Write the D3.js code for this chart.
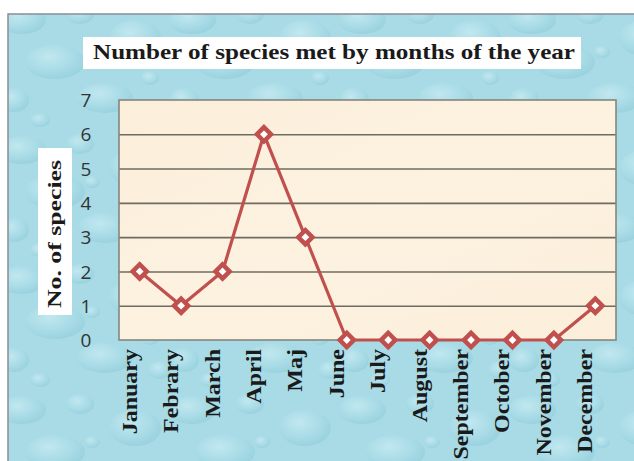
<!DOCTYPE html>
<html>
<head>
<meta charset="utf-8">
<script src="https://cdn.jsdelivr.net/npm/d3@7"></script>
<style>
  body { margin: 0; background: #fff; }
  svg { display: block; }
</style>
</head>
<body>
<div id="chart"></div>
<script>
// Datos del grafico
const meses = ["January", "Febrary", "March", "April", "Maj", "June", "July",
  "August", "September", "October", "November", "December"];
const especies = [2, 1, 2, 6, 3, 0, 0, 0, 0, 0, 0, 1];
const ticksY = [0, 1, 2, 3, 4, 5, 6, 7];

const TITULO = "Number of species met by months of the year";
const TITULO_Y = "No. of species";

const WIDTH = 634;
const HEIGHT = 461;

const PLOT = { left: 119, right: 616, top: 100, bottom: 340 };

const svg = d3.select("#chart")
  .append("svg")
  .attr("width", WIDTH)
  .attr("height", HEIGHT);

// fondo tipo gotas de agua
const defs = svg.append("defs");

const gota = defs.append("radialGradient")
  .attr("id", "gota")
  .attr("cx", "40%").attr("cy", "35%").attr("r", "65%");
gota.append("stop").attr("offset", "0%").attr("stop-color", "#d6f1f6");
gota.append("stop").attr("offset", "60%").attr("stop-color", "#aadde8");
gota.append("stop").attr("offset", "100%").attr("stop-color", "#8fcbd9");

const patron = defs.append("pattern")
  .attr("id", "agua")
  .attr("patternUnits", "userSpaceOnUse")
  .attr("width", 170).attr("height", 130);

patron.append("rect")
  .attr("width", 170).attr("height", 130)
  .attr("fill", "#a8dbe6");

const gotas = [
  [22, 20, 24, 14], [80, 14, 14, 10], [135, 38, 26, 18], [55, 62, 30, 17],
  [14, 100, 15, 12], [105, 98, 28, 15], [160, 110, 12, 9], [92, 52, 8, 6],
  [40, 120, 10, 7], [150, 78, 9, 7]
];
patron.selectAll("ellipse")
  .data(gotas)
  .join("ellipse")
  .attr("cx", d => d[0]).attr("cy", d => d[1])
  .attr("rx", d => d[2]).attr("ry", d => d[3])
  .attr("fill", "url(#gota)")
  .attr("opacity", 0.55);

const papel = defs.append("linearGradient")
  .attr("id", "papel")
  .attr("x1", "0%").attr("y1", "0%").attr("x2", "100%").attr("y2", "100%");
papel.append("stop").attr("offset", "0%").attr("stop-color", "#fbeedb");
papel.append("stop").attr("offset", "50%").attr("stop-color", "#fdf2e0");
papel.append("stop").attr("offset", "100%").attr("stop-color", "#fbeedb");

svg.append("rect")
  .attr("x", 8).attr("y", 14)
  .attr("width", WIDTH).attr("height", HEIGHT)
  .attr("fill", "url(#agua)")
  .attr("stroke", "#8a8f92")
  .attr("stroke-width", 1.5);

// escalas
const xScale = d3.scaleBand()
  .domain(meses)
  .range([PLOT.left, PLOT.right]);

const yScale = d3.scaleLinear()
  .domain([0, 7])
  .range([PLOT.bottom, PLOT.top]);

// area del grafico
svg.append("rect")
  .attr("x", PLOT.left).attr("y", PLOT.top)
  .attr("width", PLOT.right - PLOT.left)
  .attr("height", PLOT.bottom - PLOT.top)
  .attr("fill", "url(#papel)");

svg.append("g")
  .attr("class", "grid")
  .attr("transform", `translate(${PLOT.left},0)`)
  .call(d3.axisLeft(yScale).tickValues(ticksY.slice(1, -1))
    .tickSize(-(PLOT.right - PLOT.left)).tickFormat(""))
  .call(g => g.select(".domain").remove())
  .selectAll("line")
  .attr("stroke", "#6e6c62")
  .attr("stroke-width", 1.6);

svg.append("rect")
  .attr("x", PLOT.left).attr("y", PLOT.top)
  .attr("width", PLOT.right - PLOT.left)
  .attr("height", PLOT.bottom - PLOT.top)
  .attr("fill", "none")
  .attr("stroke", "#85867c")
  .attr("stroke-width", 1.6);

// eje Y
svg.append("g")
  .attr("transform", `translate(${PLOT.left},0)`)
  .call(d3.axisLeft(yScale).tickValues(ticksY).tickSize(0).tickFormat(d3.format("d")))
  .call(g => g.select(".domain").remove())
  .selectAll("text")
  .attr("x", -33)
  .attr("dy", "0.35em")
  .attr("text-anchor", "middle")
  .attr("fill", "#333333")
  .style("font-family", "'Open Sans', 'DejaVu Sans', sans-serif")
  .style("font-size", "19px");

// eje X
svg.append("g")
  .attr("transform", `translate(0,${PLOT.bottom})`)
  .call(d3.axisBottom(xScale).tickSize(0))
  .call(g => g.select(".domain").remove())
  .selectAll("text")
  .attr("x", 0).attr("y", 0).attr("dy", 0)
  .attr("text-anchor", "end")
  .attr("transform", "translate(-3,9) rotate(-90) scale(1.2,1)")
  .attr("fill", "#1a1a1a")
  .style("font-family", "'Liberation Serif', 'Times New Roman', serif")
  .style("font-weight", "bold")
  .style("font-size", "20px");

// linea y marcadores
const linea = d3.line()
  .x((d, i) => xScale(meses[i]) + xScale.bandwidth() / 2)
  .y(d => yScale(d));

svg.append("path")
  .datum(especies)
  .attr("d", linea)
  .attr("fill", "none")
  .attr("stroke", "#c0504d")
  .attr("stroke-width", 3.2)
  .attr("stroke-linejoin", "round");

svg.selectAll(".marcador")
  .data(especies)
  .join("path")
  .attr("class", "marcador")
  .attr("d", d3.symbol(d3.symbolSquare, 100))
  .attr("transform", (d, i) =>
    `translate(${xScale(meses[i]) + xScale.bandwidth() / 2},${yScale(d)}) rotate(45)`)
  .attr("fill", "#ffffff")
  .attr("stroke", "#c0504d")
  .attr("stroke-width", 4.5);

// titulo
svg.append("rect")
  .attr("x", 83).attr("y", 37)
  .attr("width", 498).attr("height", 32)
  .attr("fill", "#ffffff");

svg.append("text")
  .attr("x", 93).attr("y", 59)
  .attr("textLength", 482)
  .attr("lengthAdjust", "spacingAndGlyphs")
  .attr("fill", "#1a1a1a")
  .style("font-family", "'Liberation Serif', 'Times New Roman', serif")
  .style("font-weight", "bold")
  .style("font-size", "21px")
  .text(TITULO);

// titulo eje Y
svg.append("rect")
  .attr("x", 38).attr("y", 148)
  .attr("width", 34).attr("height", 167)
  .attr("fill", "#ffffff");

svg.append("text")
  .attr("transform", "translate(61,308) rotate(-90)")
  .attr("textLength", 148)
  .attr("lengthAdjust", "spacingAndGlyphs")
  .attr("fill", "#1a1a1a")
  .style("font-family", "'Liberation Serif', 'Times New Roman', serif")
  .style("font-weight", "bold")
  .style("font-size", "19px")
  .text(TITULO_Y);
</script>
</body>
</html>
